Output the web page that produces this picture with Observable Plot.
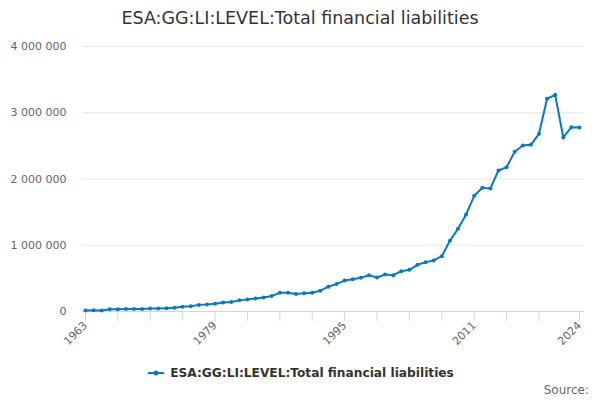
<!DOCTYPE html>
<html><head><meta charset="utf-8">
<script src="https://cdn.jsdelivr.net/npm/d3@7"></script>
<script src="https://cdn.jsdelivr.net/npm/@observablehq/plot@0.6"></script>
<style>
body{margin:0;background:#fff;font-family:"DejaVu Sans",sans-serif;width:600px;height:400px;overflow:hidden;position:relative;}
#title{height:36px;line-height:36px;text-align:center;font-size:17.5px;color:#333;}
#legend{height:34px;display:flex;justify-content:center;align-items:center;font-size:12.2px;font-weight:bold;color:#333;}
#source{position:absolute;top:383px;right:11px;font-size:12px;color:#666;line-height:14px;}
</style></head>
<body>
<div id="title">ESA:GG:LI:LEVEL:Total financial liabilities</div>
<div id="chart"></div>
<div id="legend"><svg width="20" height="10" style="margin-right:4px"><line x1="2" x2="18" y1="5" y2="5" stroke="#0a79c2" stroke-width="2"/><circle cx="10" cy="5" r="2.5" fill="#0a79c2"/></svg><span>ESA:GG:LI:LEVEL:Total financial liabilities</span></div>
<div id="source">Source:</div>
<script>
const years = d3.range(1963, 2025);
const values = [
  15000, 18000, 15000, 35000, 35000, 38000, 38000, 38000, 45000, 46000,
  50000, 55000, 70000, 80000, 100000, 107000, 117000, 137000, 142000, 168000,
  183000, 198000, 213000, 233000, 284000, 284000, 264000, 274000, 284000, 315000,
  375000, 416000, 467000, 488000, 508000, 549000, 513000, 559000, 549000, 609000,
  629000, 705000, 745000, 770000, 835000, 1067000, 1248000, 1465000, 1746000, 1867000,
  1857000, 2129000, 2179000, 2411000, 2506000, 2516000, 2682000, 3211000, 3271000, 2627000,
  2783000, 2778000
];
const yTicks = [0, 1000000, 2000000, 3000000, 4000000];
const xTicks = [1963,1967,1971,1975,1979,1983,1987,1991,1995,1999,2003,2007,2011,2015,2019,2024];
const xLabels = [1963, 1979, 1995, 2011, 2024];
const data = years.map((y, i) => ({year: y, value: values[i]}));
const fmt = v => d3.format(",")(v).replace(/,/g, " ");
const color = "#0a79c2";

const chart = Plot.plot({
  width: 600,
  height: 320,
  marginTop: 10,
  marginBottom: 45,
  marginLeft: 82,
  marginRight: 16,
  style: {fontFamily: "DejaVu Sans, sans-serif", fontSize: "11px", color: "#666", background: "#fff"},
  x: {domain: [1962.63, 2024.62]},
  y: {domain: [0, 4000000]},
  marks: [
    Plot.ruleY(yTicks.slice(1), {stroke: "#e6e6e6", strokeWidth: 1}),
    Plot.axisY({ticks: yTicks, tickSize: 0, tickPadding: 16, tickFormat: fmt, label: null, fontSize: 11}),
    Plot.ruleY([0], {stroke: "#ccd6eb", strokeWidth: 1}),
    Plot.axisX({ticks: xTicks, tickSize: 10, stroke: "#ccd6eb", tickRotate: -45, tickPadding: 2,
      tickFormat: d => xLabels.includes(d) ? String(d) : "", label: null, fontSize: 11}),
    Plot.line(data, {x: "year", y: "value", stroke: color, strokeWidth: 2}),
    Plot.dot(data, {x: "year", y: "value", fill: color, r: 2})
  ]
});
document.getElementById("chart").appendChild(chart);
</script>
</body></html>
